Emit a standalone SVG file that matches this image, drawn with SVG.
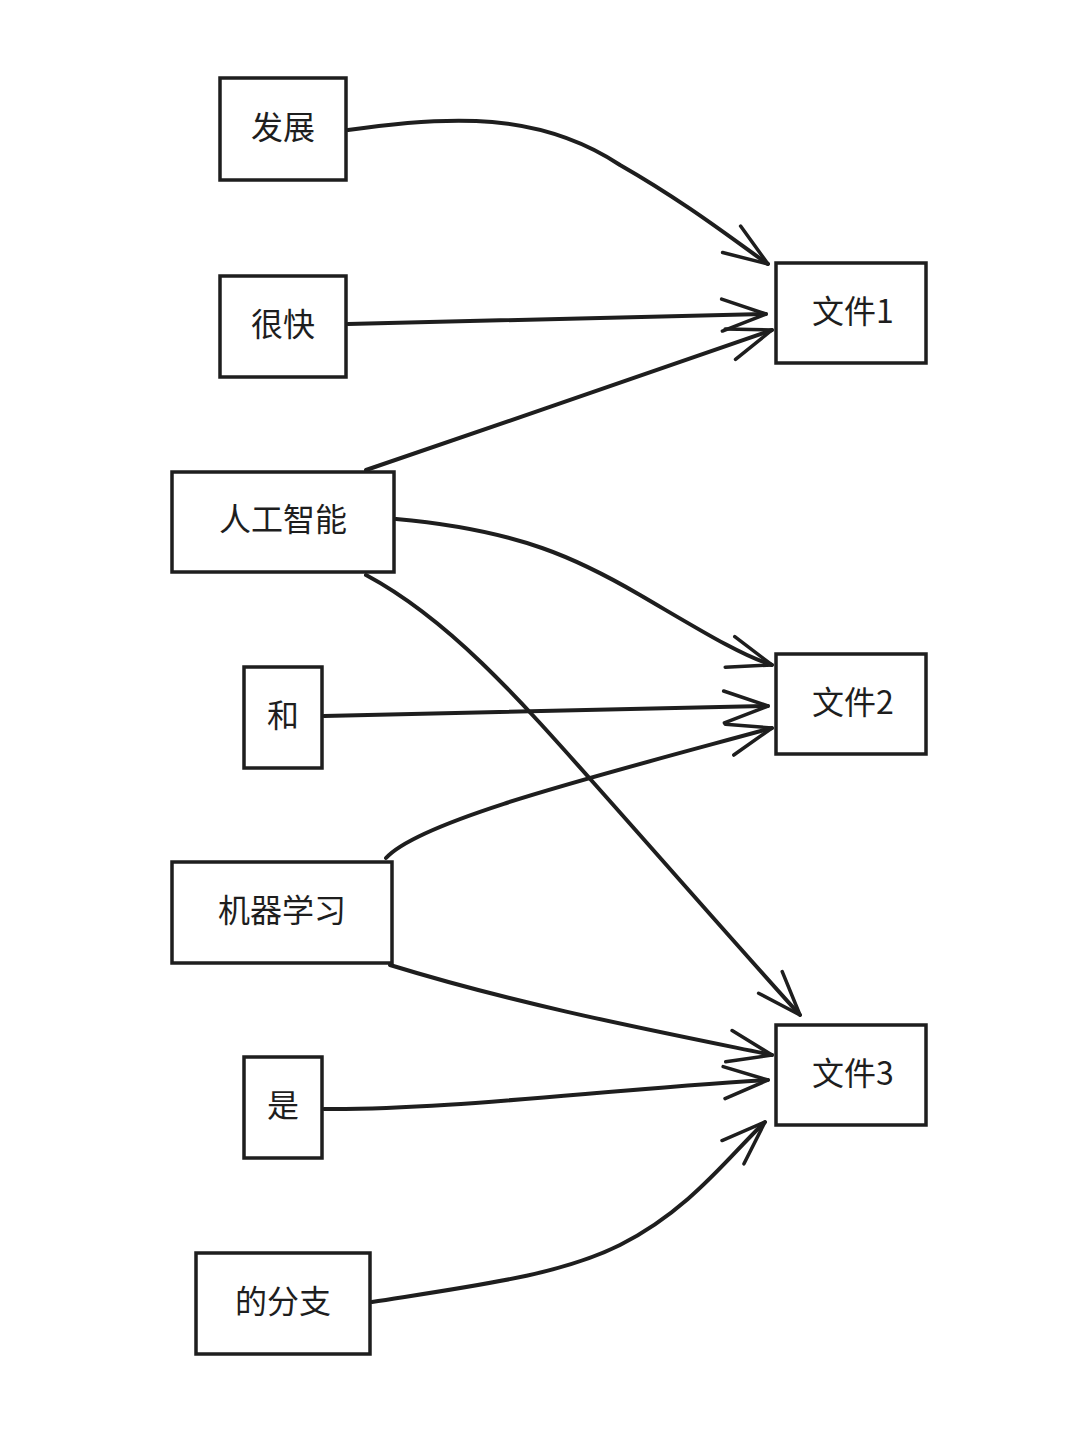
<svg xmlns="http://www.w3.org/2000/svg" width="1080" height="1435" viewBox="0 0 1080 1435">
<style>
.n rect{fill:#fff;stroke:#1e1e1e;stroke-width:3.5}
.n text{font-family:"Noto Sans CJK SC","Liberation Sans",sans-serif;font-size:32px;fill:#1e1e1e;text-anchor:middle;dominant-baseline:central}
.e path{fill:none;stroke:#1e1e1e;stroke-width:4;stroke-linecap:round;marker-end:url(#a)}
</style>
<defs>
<marker id="a" viewBox="0 0 20 20" refX="18" refY="10" markerWidth="20" markerHeight="20" markerUnits="userSpaceOnUse" orient="auto" overflow="visible">
<path d="M-26 -6 L18 10 L-26 26" fill="none" stroke="#1e1e1e" stroke-width="3.5" stroke-linecap="round" stroke-linejoin="round"/>
</marker>
</defs>
<rect width="1080" height="1435" fill="#fff"/>
<g class="e" id="connectors">
<path d="M348 130 C450 115 540 112 620 165 C690 205 740 245 768 264"/>
<path d="M348 324 L766 314"/>
<path d="M366 470 C500 425 640 375 772 330"/>
<path d="M396 519 C520 530 580 560 640 595 C700 630 740 655 772 665"/>
<path d="M366 575 C450 620 520 700 600 790 C680 880 750 960 800 1015"/>
<path d="M324 716 L768 706"/>
<path d="M386 858 C420 820 600 775 772 728"/>
<path d="M390 965 C520 1005 650 1030 772 1055"/>
<path d="M324 1109 C450 1110 600 1090 768 1080"/>
<path d="M372 1302 C480 1285 560 1275 620 1245 C690 1210 730 1155 765 1122"/>
</g>
<g class="n" id="n1"><rect x="220" y="78" width="126" height="102"/><text x="283" y="125">发展</text></g>
<g class="n" id="n2"><rect x="220" y="276" width="126" height="101"/><text x="283" y="322">很快</text></g>
<g class="n" id="n3"><rect x="172" y="472" width="222" height="100"/><text x="283" y="517">人工智能</text></g>
<g class="n" id="n4"><rect x="244" y="667" width="78" height="101"/><text x="283" y="713">和</text></g>
<g class="n" id="n5"><rect x="172" y="862" width="220" height="101"/><text x="282" y="908">机器学习</text></g>
<g class="n" id="n6"><rect x="244" y="1057" width="78" height="101"/><text x="283" y="1103">是</text></g>
<g class="n" id="n7"><rect x="196" y="1253" width="174" height="101"/><text x="283" y="1299">的分支</text></g>
<g class="n" id="f1"><rect x="776" y="263" width="150" height="100"/><text x="853" y="309">文件1</text></g>
<g class="n" id="f2"><rect x="776" y="654" width="150" height="100"/><text x="853" y="700">文件2</text></g>
<g class="n" id="f3"><rect x="776" y="1025" width="150" height="100"/><text x="853" y="1071">文件3</text></g>
</svg>
